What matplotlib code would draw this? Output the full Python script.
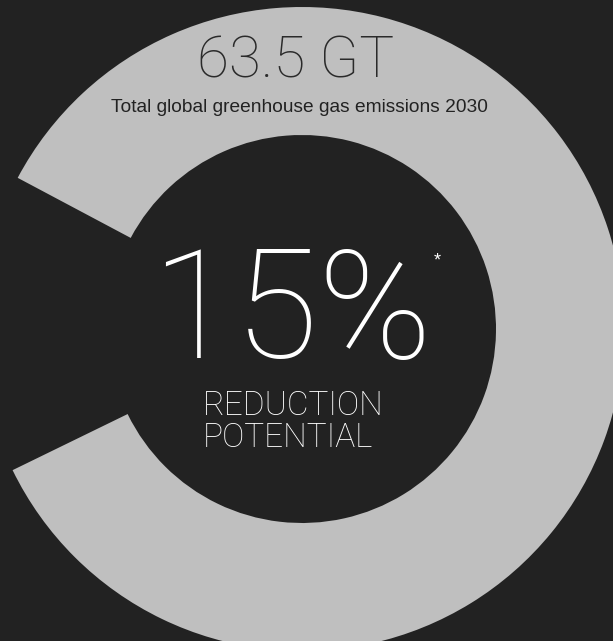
import matplotlib
matplotlib.use("Agg")
import matplotlib.pyplot as plt

# share of total emissions: remaining vs reduction potential
shares = [85, 15]
total_label = "63.5 GT"
subtitle = "Total global greenhouse gas emissions 2030"
pct_label = "15%"
caption = ["REDUCTION", "POTENTIAL"]

bg = "#222222"
ring = "#bfbfbf"
W, H = 613, 641

fig = plt.figure(figsize=(W / 100, H / 100), dpi=100, facecolor=bg)
ax = fig.add_axes([0, 0, 1, 1])
ax.set_facecolor(bg)

# gap centred on the left side
ax.pie(shares, colors=[ring, "none"], center=(302, H - 329), radius=322,
       startangle=206, wedgeprops=dict(width=128, linewidth=0))

ax.set_xlim(0, W)
ax.set_ylim(0, H)
ax.set_aspect("equal")
ax.axis("off")

ax.text(296, H - 62, total_label, ha="center", va="center", fontsize=42,
        family="Roboto", fontweight="light", color="#2a2a2a")
ax.text(299, H - 112, subtitle, ha="center", va="baseline", fontsize=13.8,
        family="Liberation Sans", color="#222222")
ax.text(292, H - 358, pct_label, ha="center", va="baseline", fontsize=110,
        family="Roboto", fontweight="light", color="white")
ax.text(437, H - 261, "*", ha="center", va="center", fontsize=13,
        family="Liberation Sans", color="white")
ax.text(203, H - 415, caption[0], ha="left", va="baseline", fontsize=24,
        family="Roboto", fontweight="light", color="white")
ax.text(203, H - 447, caption[1], ha="left", va="baseline", fontsize=24,
        family="Roboto", fontweight="light", color="white")

fig.savefig("out.png", dpi=100, facecolor=bg)
